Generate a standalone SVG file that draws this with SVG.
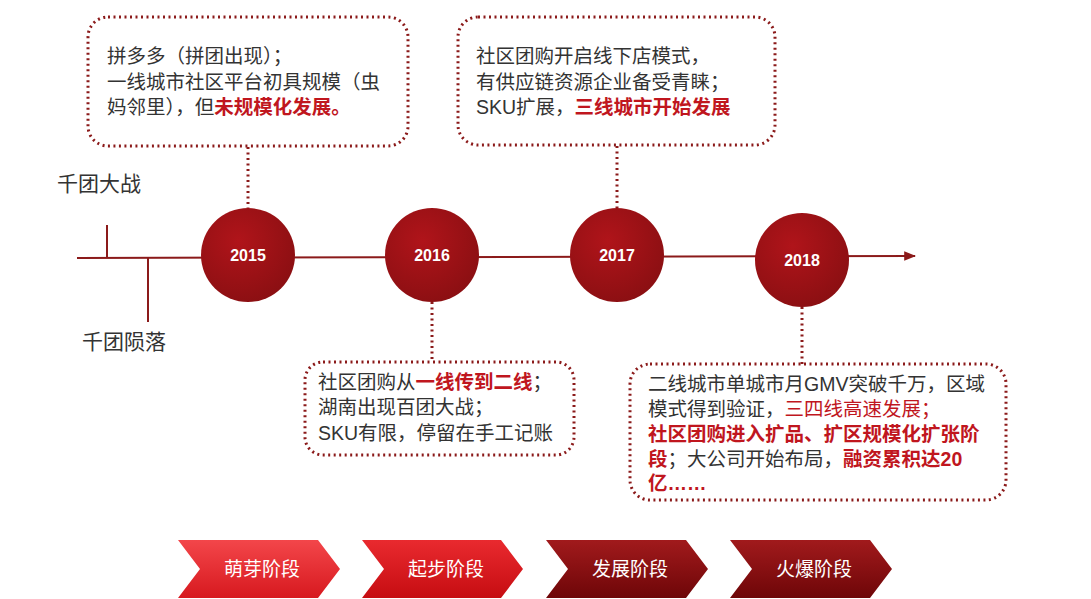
<svg xmlns="http://www.w3.org/2000/svg" width="1091" height="599" viewBox="0 0 1091 599">
<style>
text{font-family:"Liberation Sans","Noto Sans CJK SC",sans-serif;font-size:19.5px;fill:#333}
.r{fill:#c0161e}
.b{font-weight:bold}
.box{fill:#fff;stroke:#8b1a1a;stroke-width:3;stroke-dasharray:2 3.5}
.dot{stroke:#8b1a1a;stroke-width:3;stroke-dasharray:2 3.5;fill:none}
.yr{fill:#fff;font-weight:bold;font-size:16px;text-anchor:middle}
.cv{fill:#fff;font-size:19px;text-anchor:middle}
</style>
<defs>
<radialGradient id="cg" cx="0.4" cy="0.35" r="0.7"><stop offset="0" stop-color="#b0141a"/><stop offset="1" stop-color="#8a0f12"/></radialGradient>
<linearGradient id="g1" x1="0" y1="0" x2="0" y2="1"><stop offset="0" stop-color="#f3464a"/><stop offset="1" stop-color="#d7191f"/></linearGradient>
<linearGradient id="g2" x1="0" y1="0" x2="0" y2="1"><stop offset="0" stop-color="#e92a2f"/><stop offset="1" stop-color="#c60d12"/></linearGradient>
<linearGradient id="g3" x1="0" y1="0" x2="0" y2="1"><stop offset="0" stop-color="#a11a1c"/><stop offset="1" stop-color="#6e0608"/></linearGradient>
<marker id="ah" viewBox="0 0 10 10" refX="9" refY="5" markerWidth="6" markerHeight="6" orient="auto"><path d="M0,1 L10,5 L0,9 Z" fill="#8b1a1a"/></marker>
</defs>
<g id="connectors">
<line x1="77" y1="258" x2="915" y2="256" stroke="#8b1a1a" stroke-width="2" marker-end="url(#ah)"/>
<line x1="107" y1="225" x2="107" y2="258" stroke="#8b1a1a" stroke-width="2"/>
<line x1="148" y1="258" x2="148" y2="322" stroke="#8b1a1a" stroke-width="2"/>
<line class="dot" x1="248" y1="147" x2="248" y2="208"/>
<line class="dot" x1="617" y1="146" x2="617" y2="208"/>
<line class="dot" x1="432" y1="302" x2="432" y2="362"/>
<line class="dot" x1="802" y1="307" x2="802" y2="364"/>
</g>
<g id="labels">
<text x="57" y="191" style="font-size:21px">千团大战</text>
<text x="82" y="349" style="font-size:21px">千团陨落</text>
</g>
<g id="y2015"><circle cx="248" cy="255" r="47" fill="url(#cg)"/><text class="yr" x="248" y="261">2015</text></g>
<g id="y2016"><circle cx="432" cy="255" r="47" fill="url(#cg)"/><text class="yr" x="432" y="261">2016</text></g>
<g id="y2017"><circle cx="617" cy="255" r="47" fill="url(#cg)"/><text class="yr" x="617" y="261">2017</text></g>
<g id="y2018"><circle cx="802" cy="260" r="47" fill="url(#cg)"/><text class="yr" x="802" y="266">2018</text></g>
<g id="box2015">
<rect class="box" x="88" y="17" width="320" height="129" rx="20"/>
<text x="107" y="63">拼多多（拼团出现）；</text>
<text x="107" y="89">一线城市社区平台初具规模（虫</text>
<text x="107" y="114">妈邻里），但<tspan class="r b">未规模化发展。</tspan></text>
</g>
<g id="box2017">
<rect class="box" x="458" y="17" width="317" height="128" rx="20"/>
<text x="476" y="63">社区团购开启线下店模式，</text>
<text x="476" y="89">有供应链资源企业备受青睐；</text>
<text x="476" y="114">SKU扩展，<tspan class="r b">三线城市开始发展</tspan></text>
</g>
<g id="box2016">
<rect class="box" x="305" y="362" width="269" height="93" rx="18"/>
<text x="318" y="389">社区团购从<tspan class="r b">一线传到二线</tspan>；</text>
<text x="318" y="414">湖南出现百团大战；</text>
<text x="318" y="440">SKU有限，停留在手工记账</text>
</g>
<g id="box2018">
<rect class="box" x="630" y="364" width="376" height="136" rx="20"/>
<text x="648" y="391">二线城市单城市月GMV突破千万，区域</text>
<text x="648" y="416">模式得到验证，<tspan class="r">三四线高速发展；</tspan></text>
<text x="648" y="441" class="r b">社区团购进入扩品、扩区规模化扩张阶</text>
<text x="648" y="466"><tspan class="r b">段</tspan>；大公司开始布局，<tspan class="r b">融资累积达20</tspan></text>
<text x="648" y="490" class="r b">亿……</text>
</g>
<g id="s1"><path d="M178,540 H318 L340,569 L318,598 H178 L200,569 Z" fill="url(#g1)"/><text class="cv" x="262" y="576">萌芽阶段</text></g>
<g id="s2"><path d="M362,540 H501 L523,569 L501,598 H362 L384,569 Z" fill="url(#g2)"/><text class="cv" x="446" y="576">起步阶段</text></g>
<g id="s3"><path d="M546,540 H686 L708,569 L686,598 H546 L568,569 Z" fill="url(#g3)"/><text class="cv" x="630" y="576">发展阶段</text></g>
<g id="s4"><path d="M730,540 H870 L892,569 L870,598 H730 L752,569 Z" fill="url(#g3)"/><text class="cv" x="814" y="576">火爆阶段</text></g>
</svg>
